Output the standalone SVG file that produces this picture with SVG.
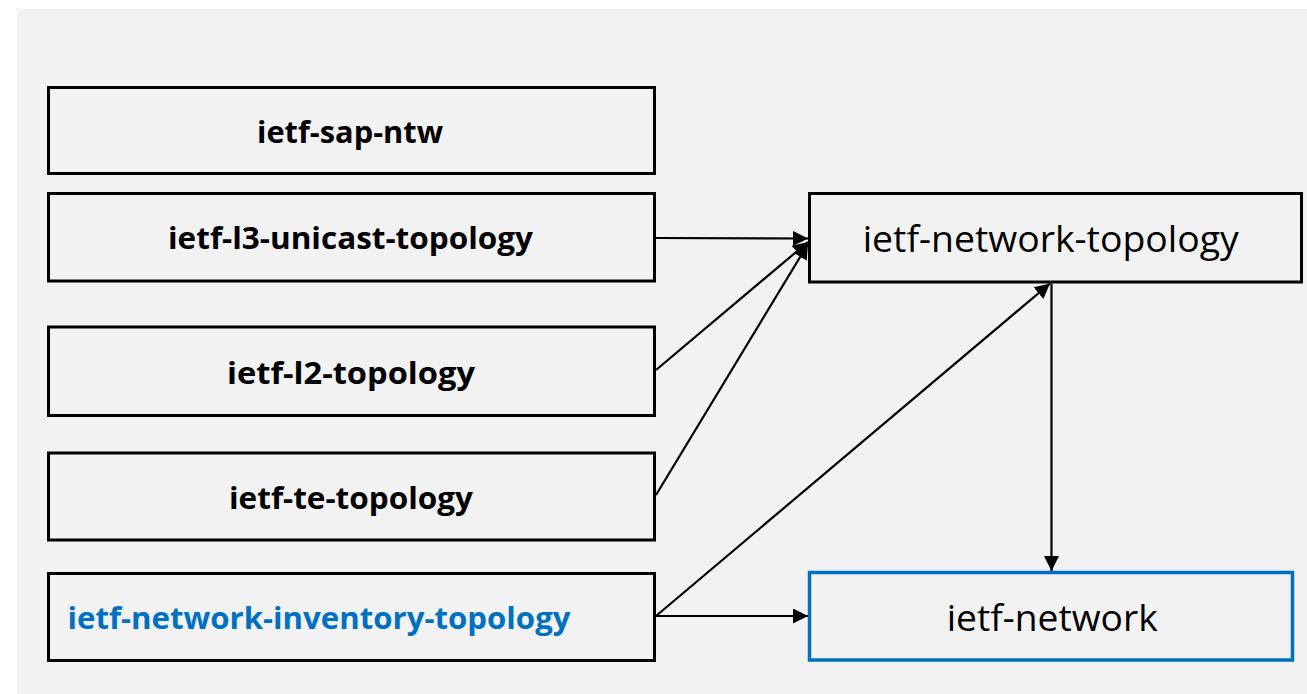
<svg xmlns="http://www.w3.org/2000/svg" width="1307" height="694" viewBox="0 0 1307 694">
  <style>
    .box { fill: #f2f2f2; stroke: #000000; stroke-width: 3; }
    .blue { stroke: #0070c0; stroke-width: 3.5; }
    .lb { font-family: "Open Sans", "Noto Sans", sans-serif; font-weight: bold; font-size: 30px; fill: #000000; }
    .lr { font-family: "Open Sans", "Noto Sans", sans-serif; font-weight: normal; font-size: 36px; fill: #000000; }
    .bt { fill: #0070c0; }
    .edge { stroke: #000000; stroke-width: 2.2; fill: none; }
  </style>
  <defs>
    <marker id="arrow" markerUnits="userSpaceOnUse" markerWidth="16" markerHeight="16" refX="15" refY="7.5" orient="auto">
      <path d="M0,0 L15,7.5 L0,15 z" fill="#000000"/>
    </marker>
  </defs>
  <rect x="0" y="0" width="1307" height="694" fill="#ffffff"/>
  <rect x="17" y="9" width="1290" height="685" fill="#f2f2f2"/>

  <g id="ietf-sap-ntw">
    <rect class="box" x="48.5" y="87.5" width="606" height="86"/>
    <text class="lb" x="257" y="143" textLength="186" lengthAdjust="spacingAndGlyphs">ietf-sap-ntw</text>
  </g>
  <g id="ietf-l3-unicast-topology">
    <rect class="box" x="48.5" y="193.5" width="606" height="87.5"/>
    <text class="lb" x="168" y="249.3" textLength="365" lengthAdjust="spacingAndGlyphs">ietf-l3-unicast-topology</text>
  </g>
  <g id="ietf-l2-topology">
    <rect class="box" x="48.5" y="327" width="606" height="88.5"/>
    <text class="lb" x="227" y="383.5" textLength="248" lengthAdjust="spacingAndGlyphs">ietf-l2-topology</text>
  </g>
  <g id="ietf-te-topology">
    <rect class="box" x="48.5" y="453" width="606" height="87"/>
    <text class="lb" x="229" y="509.3" textLength="244" lengthAdjust="spacingAndGlyphs">ietf-te-topology</text>
  </g>
  <g id="ietf-network-inventory-topology">
    <rect class="box" x="48.5" y="573.5" width="606" height="87"/>
    <text class="lb bt" x="67.5" y="628.5" textLength="503" lengthAdjust="spacingAndGlyphs">ietf-network-inventory-topology</text>
  </g>
  <g id="ietf-network-topology">
    <rect class="box" x="809.5" y="193.5" width="492" height="88.5"/>
    <text class="lr" x="862.7" y="251.7" textLength="376" lengthAdjust="spacingAndGlyphs">ietf-network-topology</text>
  </g>
  <g id="ietf-network">
    <rect class="box blue" x="809.5" y="572.5" width="483" height="87.5"/>
    <text class="lr" x="946.7" y="630.7" textLength="211" lengthAdjust="spacingAndGlyphs">ietf-network</text>
  </g>

  <g id="connectors">
    <line class="edge" x1="656" y1="238" x2="808" y2="238.5" marker-end="url(#arrow)"/>
    <line class="edge" x1="656" y1="370" x2="808" y2="242" marker-end="url(#arrow)"/>
    <line class="edge" x1="656" y1="495" x2="808" y2="244" marker-end="url(#arrow)"/>
    <line class="edge" x1="656" y1="616" x2="1050" y2="283.5" marker-end="url(#arrow)"/>
    <line class="edge" x1="656" y1="616" x2="808" y2="616" marker-end="url(#arrow)"/>
    <line class="edge" x1="1051.5" y1="283.5" x2="1051.5" y2="571" marker-end="url(#arrow)"/>
  </g>
</svg>
